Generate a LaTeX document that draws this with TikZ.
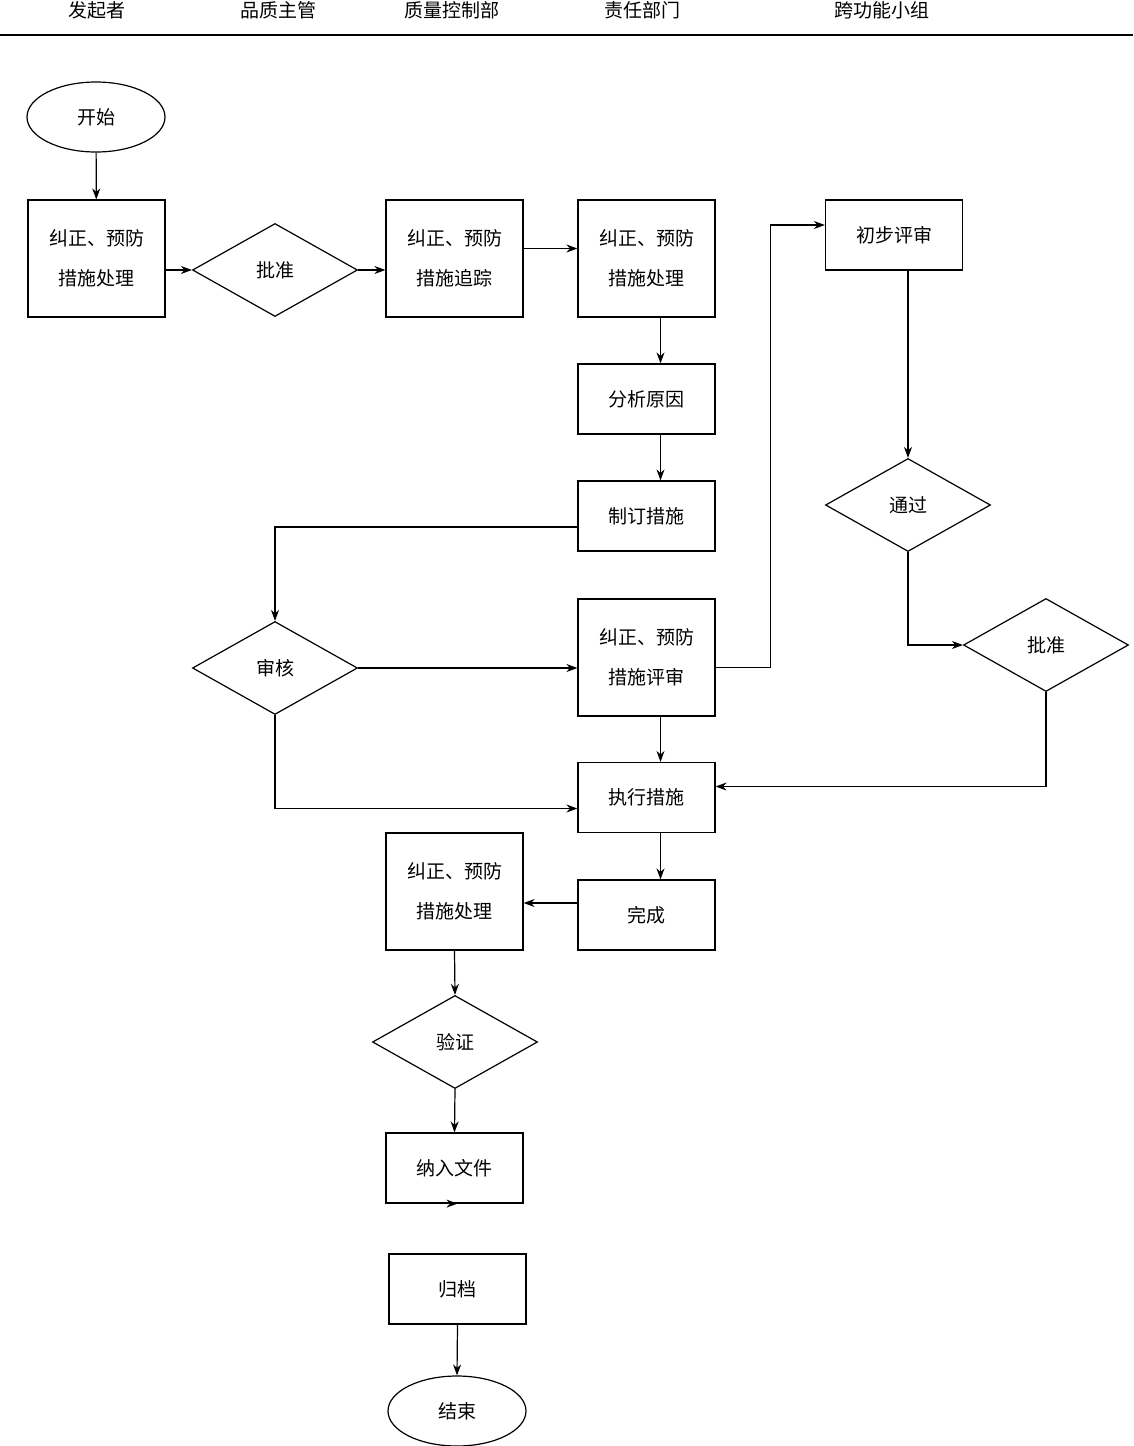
\documentclass[tikz,border=0pt]{standalone}
\usepackage{fontspec}
\newfontfamily\cjk{Noto Sans CJK SC}
\usetikzlibrary{shapes.geometric,arrows.meta}
\begin{document}
\begin{tikzpicture}[x=1pt,y=-1pt,
  every node/.style={font=\cjk\fontsize{19}{40}\selectfont,align=center,inner sep=0pt,draw,line width=1.2pt},
  box/.style={rectangle,minimum width=137pt,minimum height=117pt},
  sbox/.style={rectangle,minimum width=137pt,minimum height=70pt},
  dia/.style={diamond,minimum width=165pt,minimum height=93pt,aspect=1.77},
  ell/.style={ellipse,minimum width=138pt,minimum height=70pt},
  hdr/.style={draw=none},
  arr/.style={-{Stealth[length=11pt,width=8pt]},line width=1.2pt}]
\useasboundingbox (0,0) rectangle (1133,1446);
\node[hdr] (h1) at (97,10) {发起者};
\node[hdr] (h2) at (278,10) {品质主管};
\node[hdr] (h3) at (452,10) {质量控制部};
\node[hdr] (h4) at (642,10) {责任部门};
\node[hdr] (h5) at (882,10) {跨功能小组};
\coordinate (l1) at (0,35); \coordinate (l2) at (1133,35);
\draw[line width=1.2pt] (l1) -- (l2);
\node[ell] (start) at (96,117) {开始};
\node[box] (b1) at (96.5,258.5) {纠正、预防\\措施处理};
\node[dia] (d1) at (275,270) {批准};
\node[box] (b2) at (454.5,258.5) {纠正、预防\\措施追踪};
\node[box] (b3) at (646.5,258.5) {纠正、预防\\措施处理};
\node[sbox] (fx) at (646.5,399) {分析原因};
\node[sbox] (zd) at (646.5,516) {制订措施};
\node[dia] (sh) at (275,668) {审核};
\node[box] (ps) at (646.5,657.5) {纠正、预防\\措施评审};
\node[sbox] (cb) at (894,235) {初步评审};
\node[dia] (tg) at (908,505) {通过};
\node[dia] (d2) at (1046,645) {批准};
\node[sbox] (zx) at (646.5,797.5) {执行措施};
\node[sbox] (wc) at (646.5,915) {完成};
\node[box] (b4) at (454.5,891.5) {纠正、预防\\措施处理};
\node[dia] (yz) at (455,1042) {验证};
\node[sbox] (nr) at (454.5,1168) {纳入文件};
\node[sbox] (gd) at (457.5,1289) {归档};
\node[ell] (end) at (457,1411) {结束};
\draw[arr] (start) -- (b1);
\draw[arr] (b1.east |- d1) -- (d1.west);
\draw[arr] (d1.east) -- (d1.east -| b2.west);
\draw[arr] ([yshift=10pt]b2.east) -- ([yshift=10pt]b3.west);
\draw[arr] ([xshift=14pt]b3.south) -- ([xshift=14pt]fx.north);
\draw[arr] ([xshift=14pt]fx.south) -- ([xshift=14pt]zd.north);
\draw[arr] ([yshift=-11pt]zd.west) -| (sh.north);
\draw[arr] (sh.east) -- (sh.east -| ps.west);
\draw[arr] (sh.south) |- ([yshift=-11pt]zx.west);
\draw[arr] ([xshift=14pt]ps.south) -- ([xshift=14pt]zx.north);
\draw[arr] ([yshift=-10pt]ps.east) -- ++(55,0) |- ([yshift=10pt]cb.west);
\draw[arr] (cb.south -| tg.north) -- (tg.north);
\draw[arr] (tg.south) |- (d2.west);
\draw[arr] (d2.south) |- ([yshift=11pt]zx.east);
\draw[arr] ([xshift=14pt]zx.south) -- ([xshift=14pt]wc.north);
\draw[arr] ([yshift=12pt]wc.west) -- ([yshift=12pt]wc.west -| b4.east);
\draw[arr] (b4.south) -- (yz.north);
\draw[arr] (yz.south) -- (nr.north);
\draw[arr] (nr.south) -- (nr.south -| gd.north);
\draw[arr] (gd.south) -- (end.north);
\end{tikzpicture}
\end{document}
